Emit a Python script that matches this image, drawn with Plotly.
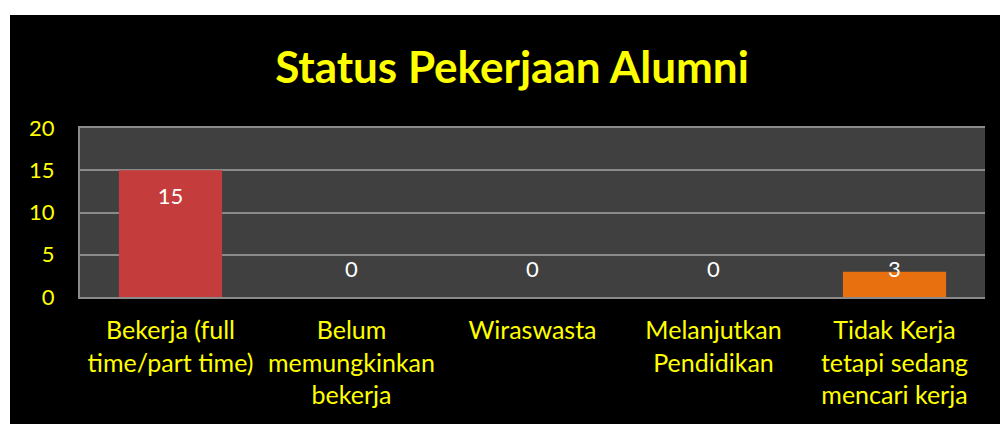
import plotly.graph_objects as go

categories = [
    "Bekerja (full<br>time/part time)",
    "Belum<br>memungkinkan<br>bekerja",
    "Wiraswasta",
    "Melanjutkan<br>Pendidikan",
    "Tidak Kerja<br>tetapi sedang<br>mencari kerja",
]
values = [15, 0, 0, 0, 3]
bar_colors = ["#C43C3C", "#C43C3C", "#C43C3C", "#C43C3C", "#E8700F"]
tick_vals = [0, 5, 10, 15, 20]
title_text = "Status Pekerjaan Alumni"

label_y = [v - 3.3 if v > 6 else 3.05 for v in values]

fig = go.Figure()
fig.add_trace(go.Bar(
    x=categories, y=values,
    marker=dict(color=bar_colors, line=dict(width=0)),
    hoverinfo="skip",
))
fig.add_trace(go.Scatter(
    x=categories, y=label_y, mode="text",
    text=[str(v) for v in values],
    textfont=dict(family="Lato", size=22, color="white"),
    hoverinfo="skip",
))

# white strips at the left and top edges (outside the black chart area)
fig.add_shape(type="rect", xref="paper", yref="paper",
              x0=-80/905, x1=(10 - 80)/905, y0=-127/169, y1=1 + 128/169,
              fillcolor="white", line=dict(width=0), layer="below")
fig.add_shape(type="rect", xref="paper", yref="paper",
              x0=-80/905, x1=1 + 15/905, y0=1 + (128 - 15)/169, y1=1 + 128/169,
              fillcolor="white", line=dict(width=0), layer="below")

fig.update_layout(
    width=1000, height=424,
    margin=dict(l=80, r=15, t=128, b=127),
    paper_bgcolor="black",
    plot_bgcolor="#404040",
    showlegend=False,
    bargap=0.43,
    title=dict(text="<b>" + title_text + "</b>", x=0.512, xanchor="center",
               y=1 - 68/424, yanchor="middle",
               font=dict(family="Lato", size=44, color="#FFFF00")),
    font=dict(family="Lato", color="#FFFF00"),
)
fig.update_xaxes(
    showgrid=False, showline=True, linecolor="#8A8A8A", linewidth=2, mirror=True,
    tickfont=dict(family="Lato", size=25, color="#FFFF00"),
    ticks="outside", ticklen=10, tickcolor="rgba(0,0,0,0)",
)
fig.update_yaxes(
    range=[0, 20], tickvals=tick_vals,
    showgrid=True, gridcolor="#8A8A8A", gridwidth=2,
    showline=True, linecolor="#8A8A8A", linewidth=2,
    zeroline=False,
    tickfont=dict(family="Lato", size=22, color="#FFFF00"),
    ticks="outside", ticklen=19, tickcolor="rgba(0,0,0,0)",
)

fig.write_html(
    "out.html",
    config={"displayModeBar": False},
    post_script="document.body.style.margin='0';document.body.style.padding='0';"
                "document.body.style.overflow='hidden';"
                "document.documentElement.style.overflow='hidden';"
                "document.body.style.background='black';"
                "document.documentElement.style.background='black';",
)
